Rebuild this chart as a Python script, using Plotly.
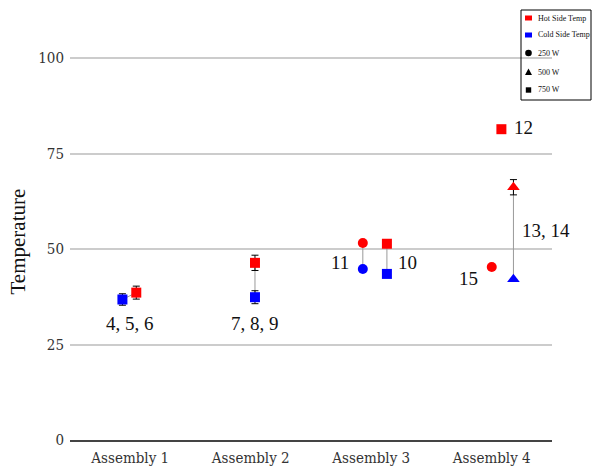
import plotly.graph_objects as go

categories = ["Assembly 1", "Assembly 2", "Assembly 3", "Assembly 4"]

# Hot side / cold side temperatures by assembly index and power level
hot_750_idx = [0, 1, 2, 3]
hot_750 = [38.6, 46.4, 51.4, 81.4]
hot_750_err = [1.7, 2.0, 0, 0]
cold_750_idx = [0, 1, 2]
cold_750 = [36.8, 37.4, 43.5]
cold_750_err = [1.5, 1.7, 0]

hot_250_idx = [2, 3]
hot_250 = [51.6, 45.3]
cold_250_idx = [2]
cold_250 = [44.8]

hot_500_idx = [3]
hot_500 = [66.2]
hot_500_err = [2.0]
cold_500_idx = [3]
cold_500 = [42.1]

# horizontal jitter of each group within its category
off_hot_750 = [0.05, 0.035, 0.13, 0.08]
off_cold_750 = [-0.065, 0.035, 0.13]
off_250 = [-0.07, 0.0]
off_500 = [0.18]

labels = ["4, 5, 6", "7, 8, 9", "11", "10", "12", "13, 14", "15"]
label_x = [0.0, 1.035, 1.74, 2.30, 3.26, 3.45, 2.81]
label_y = [30.6, 30.6, 46.6, 46.6, 81.9, 55.0, 42.4]

legend_names = ["Hot Side Temp", "Cold Side Temp", "250 W", "500 W", "750 W"]
y_title = "Temperature"

RED = "#ff0000"
BLUE = "#0000ff"
GRAY = "#9a9a9a"

# plot area at x 70-552, y 20-440 of the 594x471 page (body margin removed below)
W, H = 594, 471
ML, MR, MT, MB = 70, 42, 20, 31
PX0, PY0 = ML, MT
PW, PH = W - ML - MR, H - MT - MB


def px(x):
    return (x - PX0) / PW


def py(y):
    return (PY0 + PH - y) / PH


def xs(idx, off):
    return [i + o for i, o in zip(idx, off)]


fig = go.Figure()

# connector lines between hot and cold readings
pairs = [
    (xs(cold_750_idx, off_cold_750)[0], cold_750[0], xs(hot_750_idx, off_hot_750)[0], hot_750[0]),
    (xs(cold_750_idx, off_cold_750)[1], cold_750[1], xs(hot_750_idx, off_hot_750)[1], hot_750[1]),
    (xs(cold_750_idx, off_cold_750)[2], cold_750[2], xs(hot_750_idx, off_hot_750)[2], hot_750[2]),
    (xs(cold_250_idx, off_250[:1])[0], cold_250[0], xs(hot_250_idx, off_250)[0], hot_250[0]),
    (xs(cold_500_idx, off_500)[0], cold_500[0], xs(hot_500_idx, off_500)[0], hot_500[0]),
]
lx, ly = [], []
for x0, y0, x1, y1 in pairs:
    lx += [x0, x1, None]
    ly += [y0, y1, None]
fig.add_trace(go.Scatter(x=lx, y=ly, mode="lines", line=dict(color=GRAY, width=1),
                         showlegend=False, hoverinfo="skip"))

eb = dict(type="data", color="black", thickness=1, width=3.5)

fig.add_trace(go.Scatter(x=xs(cold_750_idx, off_cold_750), y=cold_750, mode="markers",
                         marker=dict(symbol="square", color=BLUE, size=10),
                         error_y=dict(array=cold_750_err, **eb), showlegend=False))
fig.add_trace(go.Scatter(x=xs(hot_750_idx, off_hot_750), y=hot_750, mode="markers",
                         marker=dict(symbol="square", color=RED, size=10),
                         error_y=dict(array=hot_750_err, **eb), showlegend=False))
fig.add_trace(go.Scatter(x=xs(hot_250_idx, off_250), y=hot_250, mode="markers",
                         marker=dict(symbol="circle", color=RED, size=10), showlegend=False))
fig.add_trace(go.Scatter(x=xs(cold_250_idx, off_250[:1]), y=cold_250, mode="markers",
                         marker=dict(symbol="circle", color=BLUE, size=10), showlegend=False))
fig.add_trace(go.Scatter(x=xs(cold_500_idx, off_500), y=cold_500, mode="markers",
                         marker=dict(symbol="triangle-up", color=BLUE, size=11), showlegend=False))
fig.add_trace(go.Scatter(x=xs(hot_500_idx, off_500), y=hot_500, mode="markers",
                         marker=dict(symbol="triangle-up", color=RED, size=11),
                         error_y=dict(array=hot_500_err, **eb), showlegend=False))

for t, x, y in zip(labels, label_x, label_y):
    fig.add_annotation(x=x, y=y, text=t, showarrow=False,
                       font=dict(family="Liberation Serif", size=19, color="#111"))

# y-axis title (placed slightly below centre, as in the original)
fig.add_annotation(xref="paper", yref="paper", x=px(17.5), y=py(242), text=y_title, textangle=-90,
                   showarrow=False, xanchor="center", yanchor="middle", borderpad=0,
                   font=dict(family="Liberation Serif", size=21, color="#111"))

# hand-drawn legend box (page pixels converted to paper coordinates)
shapes = [dict(type="rect", xref="paper", yref="paper", x0=px(521), x1=px(591), y0=py(100), y1=py(10),
               line=dict(color="black", width=1), fillcolor="rgba(0,0,0,0)", layer="above")]
item_y = [18, 35, 53, 72, 90]
mx = 528.5
shapes.append(dict(type="rect", xref="paper", yref="paper", x0=px(525), x1=px(532),
                   y0=py(item_y[0] + 2.5), y1=py(item_y[0] - 2.5), fillcolor=RED, line=dict(width=0)))
shapes.append(dict(type="rect", xref="paper", yref="paper", x0=px(525), x1=px(532),
                   y0=py(item_y[1] + 2.5), y1=py(item_y[1] - 2.5), fillcolor=BLUE, line=dict(width=0)))
shapes.append(dict(type="circle", xref="paper", yref="paper", x0=px(mx - 3.3), x1=px(mx + 3.3),
                   y0=py(item_y[2] + 3.3), y1=py(item_y[2] - 3.3), fillcolor="black", line=dict(width=0)))
ty = item_y[3]
tri = "M {} {} L {} {} L {} {} Z".format(px(mx - 3.5), py(ty + 3), px(mx + 3.5), py(ty + 3), px(mx), py(ty - 3.5))
shapes.append(dict(type="path", xref="paper", yref="paper", path=tri, fillcolor="black", line=dict(width=0)))
shapes.append(dict(type="rect", xref="paper", yref="paper", x0=px(mx - 2.7), x1=px(mx + 2.7),
                   y0=py(item_y[4] + 2.7), y1=py(item_y[4] - 2.7), fillcolor="black", line=dict(width=0)))
for name, y in zip(legend_names, item_y):
    fig.add_annotation(xref="paper", yref="paper", x=px(536.5), y=py(y), text=name, showarrow=False,
                       xanchor="left", yanchor="middle", borderpad=0,
                       font=dict(family="Liberation Serif", size=8, color="#111"))

fig.update_layout(
    width=W, height=H,
    margin=dict(l=ML, r=MR, t=MT, b=MB, autoexpand=False),
    plot_bgcolor="white", paper_bgcolor="white",
    showlegend=False,
    shapes=shapes,
    font=dict(family="DejaVu Serif Condensed", size=15, color="#333"),
    xaxis=dict(range=[-0.5, 3.5], tickvals=[0, 1, 2, 3], ticktext=categories,
               showgrid=False, zeroline=False, showline=True, linecolor="#444", linewidth=2,
               ticks="", ticklabelstandoff=3,
               tickfont=dict(family="DejaVu Serif Condensed", size=15, color="#333")),
    yaxis=dict(range=[0, 110], tickvals=[0, 25, 50, 75, 100], showgrid=True,
               gridcolor="#cccccc", gridwidth=2, zeroline=False, ticks="", ticklabelstandoff=5,
               tickfont=dict(family="DejaVu Serif Condensed", size=15, color="#333")),
)

fig.write_html("out.html", config={"displayModeBar": False},
               post_script="document.body.style.margin='0';document.body.style.overflow='hidden';")
